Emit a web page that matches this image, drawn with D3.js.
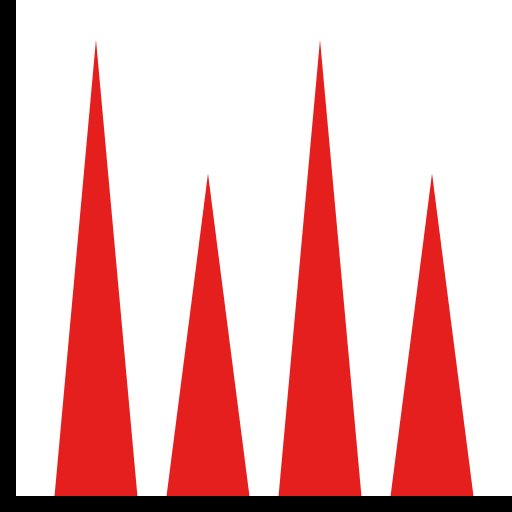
<!DOCTYPE html>
<html>
<head>
<meta charset="utf-8">
<script src="https://cdn.jsdelivr.net/npm/d3@7"></script>
<style>
  html, body { margin: 0; padding: 0; background: #fff; }
  svg { display: block; }
</style>
</head>
<body>
<div id="chart"></div>
<script>
const categories = ["A", "B", "C", "D"];
const values = [92, 65, 92, 65];

const width = 512;
const height = 512;
const axisW = 16;

const svg = d3.select("#chart")
  .append("svg")
  .attr("width", width)
  .attr("height", height);

const x = d3.scaleBand()
  .domain(categories)
  .range([axisW, width])
  .paddingInner(0.26)
  .paddingOuter(0.344);

const y = d3.scaleLinear()
  .domain([0, 100])
  .range([height - axisW, 0]);

// spikes
svg.selectAll("path.spike")
  .data(categories.map((c, i) => ({ c, v: values[i] })))
  .join("path")
  .attr("class", "spike")
  .attr("fill", "#e41f1e")
  .attr("d", (d) => {
    const x0 = x(d.c);
    const x1 = x0 + x.bandwidth();
    const xm = x0 + x.bandwidth() / 2;
    return `M${x0},${y(0)}L${xm},${y(d.v)}L${x1},${y(0)}Z`;
  });

// thick axis bars
svg.append("rect")
  .attr("x", 0)
  .attr("y", 0)
  .attr("width", axisW)
  .attr("height", height)
  .attr("fill", "#000");

svg.append("rect")
  .attr("x", 0)
  .attr("y", y(0))
  .attr("width", width)
  .attr("height", axisW)
  .attr("fill", "#000");
</script>
</body>
</html>
